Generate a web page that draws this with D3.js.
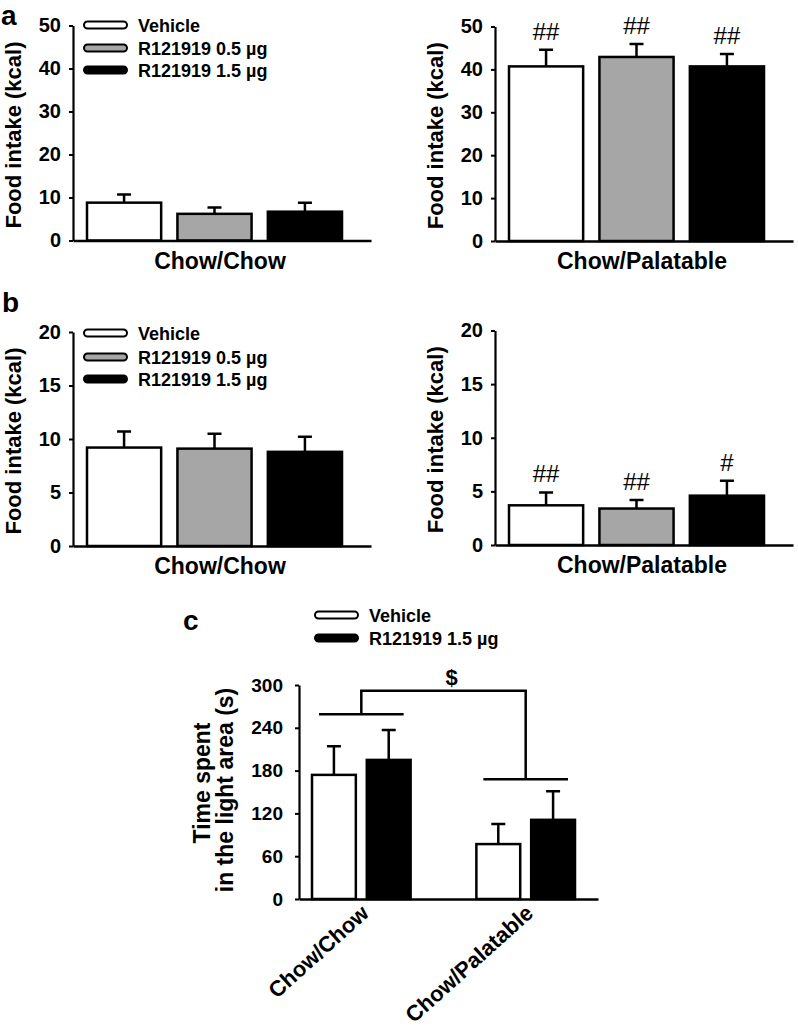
<!DOCTYPE html>
<html>
<head>
<meta charset="utf-8">
<script src="https://cdn.jsdelivr.net/npm/d3@7"></script>
<style>
  body { margin: 0; background: #fff; }
  svg { display: block; }
  text { font-family: "Liberation Sans", Arial, sans-serif; }
</style>
</head>
<body>
<svg id="fig" width="798" height="1028"></svg>
<script>
// --- data ---
const treatments = ["Vehicle", "R121919 0.5 µg", "R121919 1.5 µg"]
const treatmentFill = ["#ffffff", "#a6a6a6", "#000000"]

const aChowMean = [8.8, 6.2, 6.7]
const aChowSem = [1.9, 1.5, 2.1]
const aPalMean = [40.7, 42.9, 40.7]
const aPalSem = [3.9, 3.0, 2.9]
const aPalSig = ["##", "##", "##"]
const aTicks = [0, 10, 20, 30, 40, 50]

const bChowMean = [9.2, 9.1, 8.8]
const bChowSem = [1.5, 1.4, 1.4]
const bPalMean = [3.7, 3.4, 4.6]
const bPalSem = [1.2, 0.8, 1.4]
const bPalSig = ["##", "##", "#"]
const bTicks = [0, 5, 10, 15, 20]

const cGroups = ["Chow/Chow", "Chow/Palatable"]
const cSeries = ["Vehicle", "R121919 1.5 µg"]
const cSeriesFill = ["#ffffff", "#000000"]
const cVehicleMean = [174, 77]
const cVehicleSem = [40, 28]
const cDrugMean = [195, 111]
const cDrugSem = [42, 40]
const cGroupLine = [259, 168]   // level of the group bars of the bracket
const cBracketTop = 292
const cTicks = [0, 60, 120, 180, 240, 300]

const svg = d3.select("#fig")
svg.append("rect").attr("width", 798).attr("height", 1028).attr("fill", "#fff")

function yAxis(g, y, ticks, pad) {
    let ax = g.append("g")
        .call(d3.axisLeft(y).tickValues(ticks).tickSize(4).tickSizeOuter(0).tickPadding(pad))
    ax.select(".domain").attr("stroke", "#000").attr("stroke-width", 2.2)
    ax.selectAll(".tick line").attr("stroke", "#000").attr("stroke-width", 2)
    ax.selectAll(".tick text")
        .style("font-size", "20px").style("font-weight", "bold")
        .style("font-family", "'Liberation Sans', Arial, sans-serif")
        .attr("fill", "#000")
}

function xLine(g, x0, x1, y0) {
    let s = d3.scaleLinear().range([x0, x1])
    let ax = g.append("g").attr("transform", "translate(0," + y0 + ")")
        .call(d3.axisBottom(s).tickValues([]).tickSizeOuter(0))
    ax.select(".domain").attr("stroke", "#000").attr("stroke-width", 2.5)
}

function legend(g, x, ys, labels, fills) {
    labels.forEach(function (lab, i) {
        g.append("rect")
            .attr("x", x).attr("y", ys[i] - 3.5)
            .attr("width", 43).attr("height", 7).attr("rx", 3.5)
            .attr("fill", fills[i]).attr("stroke", "#000").attr("stroke-width", 2)
        g.append("text")
            .attr("x", x + 54).attr("y", ys[i] + 6.5)
            .style("font-size", "18px").style("font-weight", "bold")
            .text(lab)
    })
}

function yLabel(g, x, y, txt) {
    g.append("text")
        .attr("transform", "translate(" + x + "," + y + ") rotate(-90)")
        .attr("text-anchor", "middle")
        .style("font-size", "22px").style("font-weight", "bold")
        .text(txt)
}

// one bar panel of a / b
function barPanel(opt) {
    let g = svg.append("g")
    let y = d3.scaleLinear().domain([0, opt.ticks[opt.ticks.length - 1]]).range([opt.y0, opt.yTop])
    let x = d3.scaleBand().domain(treatments)
        .range([opt.ax + 14, opt.ax + 269]).paddingInner(0.18)

    let data = treatments.map(function (t, i) {
        return {name: t, mean: opt.mean[i], sem: opt.sem[i], fill: treatmentFill[i], sig: opt.sig ? opt.sig[i] : null}
    })

    // error bars (upper only)
    g.selectAll(".err").data(data).enter().append("path")
        .attr("d", function (d) {
            let cx = x(d.name) + x.bandwidth() / 2
            return "M" + cx + "," + y(d.mean) + "V" + y(d.mean + d.sem) +
                "M" + (cx - 7) + "," + y(d.mean + d.sem) + "H" + (cx + 7)
        })
        .attr("stroke", "#000").attr("stroke-width", 2.5).attr("fill", "none")

    g.selectAll(".bar").data(data).enter().append("rect")
        .attr("x", function (d) { return x(d.name) })
        .attr("y", function (d) { return y(d.mean) })
        .attr("width", x.bandwidth())
        .attr("height", function (d) { return y(0) - y(d.mean) })
        .attr("fill", function (d) { return d.fill })
        .attr("stroke", "#000").attr("stroke-width", 2.5)

    if (opt.sig) {
        g.selectAll(".sig").data(data).enter().append("text")
            .attr("x", function (d) { return x(d.name) + x.bandwidth() / 2 })
            .attr("y", function (d) { return y(d.mean + d.sem) - 10 })
            .attr("text-anchor", "middle")
            .style("font-size", "24px")
            .text(function (d) { return d.sig })
    }

    xLine(g, opt.ax, opt.ax + 298, opt.y0)
    g.append("g").attr("transform", "translate(" + opt.ax + ",0)").call(function (s) { yAxis(s, y, opt.ticks, 8) })

    g.append("text")
        .attr("x", opt.ax + 147).attr("y", opt.y0 + 28)
        .attr("text-anchor", "middle")
        .style("font-size", "23px").style("font-weight", "bold")
        .text(opt.xlab)

    yLabel(g, opt.ax - 52, (opt.y0 + opt.yTop) / 2 + 2, "Food intake (kcal)")
    return g
}

// ---- panel a ----
let gaL = barPanel({ax: 73, y0: 240.5, yTop: 25.5, ticks: aTicks, mean: aChowMean, sem: aChowSem, xlab: "Chow/Chow"})
legend(gaL, 84, [25, 48, 70], treatments, treatmentFill)
barPanel({ax: 495, y0: 241, yTop: 26.5, ticks: aTicks, mean: aPalMean, sem: aPalSem, sig: aPalSig, xlab: "Chow/Palatable"})

// ---- panel b ----
let gbL = barPanel({ax: 73, y0: 546, yTop: 332, ticks: bTicks, mean: bChowMean, sem: bChowSem, xlab: "Chow/Chow"})
legend(gbL, 84, [333, 357, 379], treatments, treatmentFill)
barPanel({ax: 495, y0: 545, yTop: 330.5, ticks: bTicks, mean: bPalMean, sem: bPalSem, sig: bPalSig, xlab: "Chow/Palatable"})

// panel letters
svg.append("text").attr("x", 1).attr("y", 25).style("font-size", "28px").style("font-weight", "bold").text("a")
svg.append("text").attr("x", 2).attr("y", 312).style("font-size", "28px").style("font-weight", "bold").text("b")
svg.append("text").attr("x", 183).attr("y", 630).style("font-size", "28px").style("font-weight", "bold").text("c")

// ---- panel c ----
{
    let g = svg.append("g")
    let ax = 299, y0 = 899
    let y = d3.scaleLinear().domain([0, 300]).range([y0, 685])
    let x0 = d3.scaleBand().domain(cGroups).range([ax + 13, ax + 276]).paddingInner(0.4)
    let x1 = d3.scaleBand().domain(cSeries).range([0, x0.bandwidth()]).paddingInner(0.2)

    let data = []
    cGroups.forEach(function (grp, i) {
        data.push({grp: grp, s: cSeries[0], mean: cVehicleMean[i], sem: cVehicleSem[i], fill: cSeriesFill[0]})
        data.push({grp: grp, s: cSeries[1], mean: cDrugMean[i], sem: cDrugSem[i], fill: cSeriesFill[1]})
    })

    g.selectAll(".err").data(data).enter().append("path")
        .attr("d", function (d) {
            let cx = x0(d.grp) + x1(d.s) + x1.bandwidth() / 2
            return "M" + cx + "," + y(d.mean) + "V" + y(d.mean + d.sem) +
                "M" + (cx - 7) + "," + y(d.mean + d.sem) + "H" + (cx + 7)
        })
        .attr("stroke", "#000").attr("stroke-width", 2.5).attr("fill", "none")

    g.selectAll(".bar").data(data).enter().append("rect")
        .attr("x", function (d) { return x0(d.grp) + x1(d.s) })
        .attr("y", function (d) { return y(d.mean) })
        .attr("width", x1.bandwidth())
        .attr("height", function (d) { return y(0) - y(d.mean) })
        .attr("fill", function (d) { return d.fill })
        .attr("stroke", "#000").attr("stroke-width", 2.5)

    // group lines + bracket with "$"
    let gc = cGroups.map(function (grp) { return x0(grp) + x0.bandwidth() / 2 })
    cGroups.forEach(function (grp, i) {
        g.append("line")
            .attr("x1", x0(grp) + 7).attr("x2", x0(grp) + x0.bandwidth() - 7)
            .attr("y1", y(cGroupLine[i])).attr("y2", y(cGroupLine[i]))
            .attr("stroke", "#000").attr("stroke-width", 2.5)
    })
    g.append("path")
        .attr("d", "M" + gc[0] + "," + y(cGroupLine[0]) + "V" + y(cBracketTop) +
            "H" + gc[1] + "V" + y(cGroupLine[1]))
        .attr("stroke", "#000").attr("stroke-width", 2.5).attr("fill", "none")
    g.append("text")
        .attr("x", (gc[0] + gc[1]) / 2 + 8).attr("y", y(cBracketTop) - 6)
        .attr("text-anchor", "middle")
        .style("font-size", "22px").style("font-weight", "bold")
        .text("$")

    xLine(g, ax, ax + 299, y0)
    g.append("g").attr("transform", "translate(" + ax + ",0)").call(function (s) { yAxis(s, y, cTicks, 12) })
    g.selectAll(".tick text").style("font-size", "19px")

    g.selectAll(".xl").data(cGroups).enter().append("text")
        .attr("transform", function (d) {
            return "translate(" + (x0(d) + x0.bandwidth() / 2 + 9) + "," + (y0 + 16) + ") rotate(-42)"
        })
        .attr("text-anchor", "end")
        .style("font-size", "22px").style("font-weight", "bold")
        .text(function (d) { return d })

    g.append("text")
        .attr("transform", "translate(210,783) rotate(-90)")
        .attr("text-anchor", "middle")
        .style("font-size", "23px").style("font-weight", "bold")
        .text("Time spent")
    g.append("text")
        .attr("transform", "translate(233,790) rotate(-90)")
        .attr("text-anchor", "middle")
        .style("font-size", "23px").style("font-weight", "bold")
        .text("in the light area (s)")

    legend(g, 315, [615, 638], cSeries, cSeriesFill)
}
</script>
</body>
</html>
